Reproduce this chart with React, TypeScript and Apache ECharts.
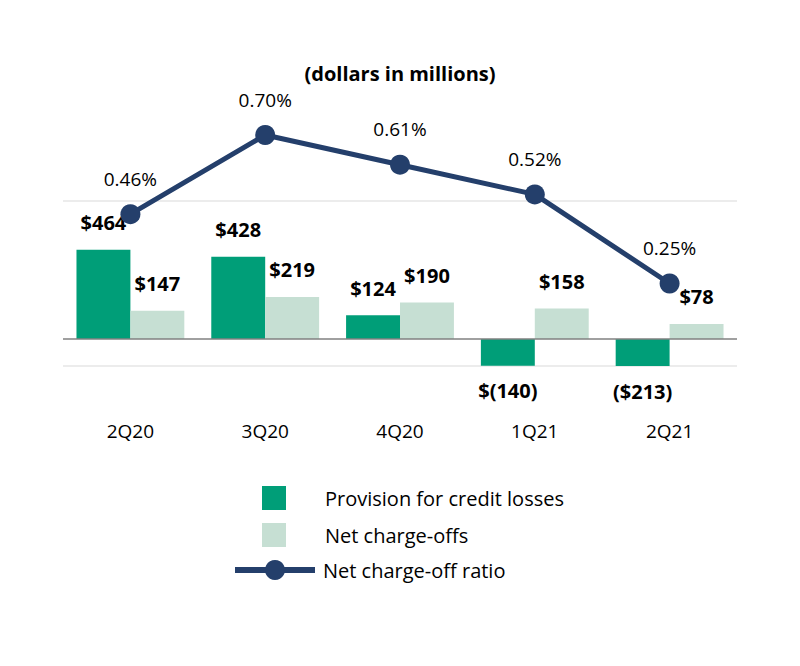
import React, { useEffect, useRef } from "react";
import * as echarts from "echarts";

const categories = ["2Q20", "3Q20", "4Q20", "1Q21", "2Q21"];
const provision = [464, 428, 124, -140, -213];
const provisionLabels = ["$464", "$428", "$124", "$(140)", "($213)"];
const netChargeOffs = [147, 219, 190, 158, 78];
const netChargeOffLabels = ["$147", "$219", "$190", "$158", "$78"];
const ratio = [0.46, 0.7, 0.61, 0.52, 0.25];

const FONT = "'Open Sans', 'DejaVu Sans', sans-serif";
const GREEN = "#009E78";
const LIGHT = "#C6DFD3";
const NAVY = "#243F6B";

export default function App() {
  const ref = useRef<HTMLDivElement>(null);
  useEffect(() => {
    if (!ref.current) return;
    const chart = echarts.init(ref.current, undefined, { renderer: "svg" });
    const barLabel = (labels: string[]) => ({
      show: true,
      position: "top",
      distance: 17,
      fontFamily: FONT,
      fontSize: 20,
      fontWeight: "bold",
      color: "#000",
      formatter: (p: any) => labels[p.dataIndex],
    });
    const legendText = (pad: number) => ({
      fontFamily: FONT,
      fontSize: 20,
      color: "#000",
      padding: [0, 0, 0, pad],
    });
    chart.setOption({
      animation: false,
      backgroundColor: "#fff",
      textStyle: { fontFamily: FONT },
      title: {
        text: "(dollars in millions)",
        left: "center",
        top: 56,
        textStyle: { fontFamily: FONT, fontSize: 20, fontWeight: "bold", color: "#000", lineHeight: 24 },
      },
      grid: { left: 63, right: 63, top: 36, bottom: 300, containLabel: false },
      legend: [
        {
          data: [{ name: "Provision for credit losses", icon: "rect" }],
          left: 257,
          top: 481,
          itemWidth: 24,
          itemHeight: 24,
          selectedMode: false,
          textStyle: legendText(34),
        },
        {
          data: [{ name: "Net charge-offs", icon: "rect" }],
          left: 257,
          top: 518,
          itemWidth: 24,
          itemHeight: 24,
          selectedMode: false,
          textStyle: legendText(34),
        },
        {
          data: ["Net charge-off ratio"],
          left: 227,
          top: 555,
          itemWidth: 80,
          itemHeight: 25,
          selectedMode: false,
          lineStyle: { width: 6 },
          textStyle: legendText(3),
        },
      ],
      xAxis: {
        type: "category",
        data: categories,
        axisLine: { show: false },
        axisTick: { show: false },
        axisLabel: { fontFamily: FONT, fontSize: 19, color: "#000", margin: 55, lineHeight: 20 },
      },
      yAxis: [
        {
          type: "value",
          min: -141,
          max: 1578,
          show: false,
          splitLine: { show: false },
        },
        {
          type: "value",
          min: 0,
          max: 1,
          interval: 0.5,
          position: "right",
          axisLine: { show: false },
          axisTick: { show: false },
          axisLabel: { show: false },
          splitLine: { show: true, showMaxLine: false, lineStyle: { color: "#E6E6E6", width: 1.5 } },
        },
      ],
      series: [
        {
          name: "Provision for credit losses",
          type: "bar",
          yAxisIndex: 0,
          barWidth: "40%",
          barGap: "0%",
          itemStyle: { color: GREEN },
          label: barLabel(provisionLabels),
          data: provision.map((v) =>
            v < 0 ? { value: v, label: { position: "bottom", distance: 15 } } : v
          ),
          markLine: {
            silent: true,
            symbol: ["none", "none"],
            label: { show: false },
            lineStyle: { color: "#808080", width: 1.5, type: "solid" },
            data: [{ yAxis: 0 }],
          },
        },
        {
          name: "Net charge-offs",
          type: "bar",
          yAxisIndex: 0,
          barWidth: "40%",
          barGap: "0%",
          itemStyle: { color: LIGHT },
          label: barLabel(netChargeOffLabels),
          data: netChargeOffs,
        },
        {
          name: "Net charge-off ratio",
          type: "line",
          yAxisIndex: 1,
          z: 5,
          symbol: "circle",
          symbolSize: 20,
          lineStyle: { color: NAVY, width: 5 },
          itemStyle: { color: NAVY },
          label: {
            show: true,
            position: "top",
            distance: 16,
            fontFamily: FONT,
            fontSize: 19,
            color: "#000",
            formatter: (p: any) => `${Number(p.value).toFixed(2)}%`,
          },
          data: ratio,
        },
      ],
    });
    return () => chart.dispose();
  }, []);
  return (
    <div
      ref={ref}
      style={{ position: "fixed", left: 0, top: 0, width: 800, height: 666, background: "#fff" }}
    />
  );
}
